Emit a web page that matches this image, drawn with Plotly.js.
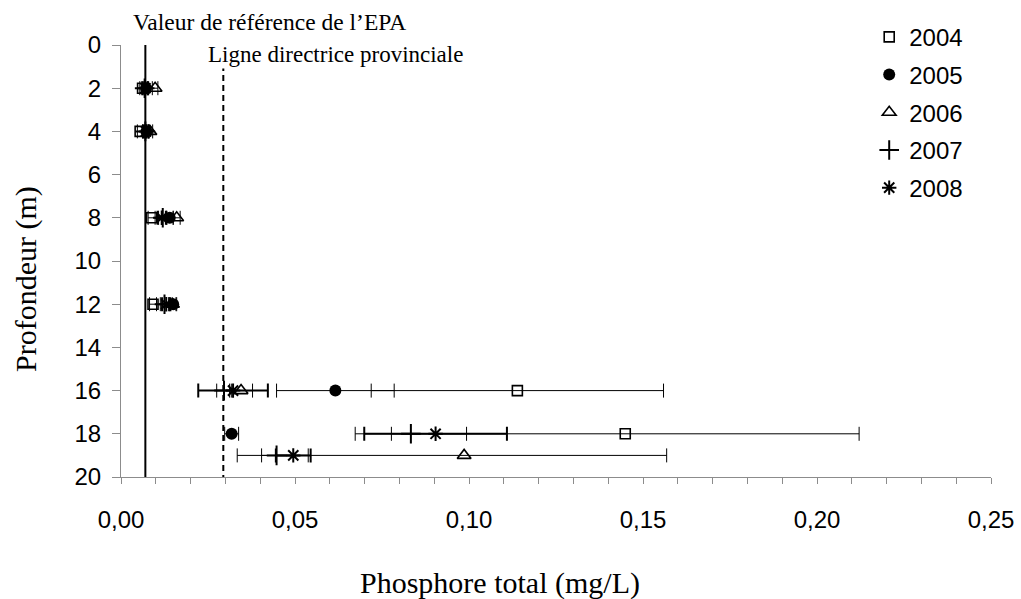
<!DOCTYPE html>
<html>
<head>
<meta charset="utf-8">
<script src="https://cdn.plot.ly/plotly-3.0.1.min.js"></script>
<style>html,body{margin:0;padding:0;background:#fff;}#chart{width:1021px;height:599px;}</style>
</head>
<body>
<div id="chart"></div>
<script>
// Depths (m)
const depths2004 = [2, 4, 8, 12, 16, 18];
const depths2005 = [2, 4, 8, 12, 16, 18];
const depths2006 = [2, 4, 8, 12, 16, 19];
const depths2007 = [2, 4, 8, 12, 16, 18, 19];
const depths2008 = [2, 4, 8, 12, 16, 18, 19];

// Total phosphorus (mg/L)
const tp2004 = [0.0062, 0.0055, 0.0088, 0.0092, 0.1139, 0.1449];
const tp2005 = [0.0072, 0.0073, 0.0140, 0.0150, 0.0616, 0.0318];
const tp2006 = [0.0098, 0.0083, 0.0160, 0.0148, 0.0345, 0.0986];
const tp2007 = [0.0068, 0.0070, 0.0120, 0.0125, 0.0296, 0.0833, 0.0447];
const tp2008 = [0.0070, 0.0072, 0.0117, 0.0130, 0.0322, 0.0904, 0.0495];

// Error bars (plus / minus)
const errPlus2004  = [0.0008, 0.0008, 0.0010, 0.0010, 0.0420, 0.0672];
const errMinus2004 = [0.0008, 0.0008, 0.0010, 0.0010, 0.0420, 0.0672];
const errPlus2005  = [0.0006, 0.0006, 0.0010, 0.0010, 0.0169, 0.0020];
const errMinus2005 = [0.0006, 0.0006, 0.0010, 0.0010, 0.0169, 0.0020];
const errPlus2006  = [0.0008, 0.0008, 0.0010, 0.0010, 0.0033, 0.0582];
const errMinus2006 = [0.0008, 0.0008, 0.0010, 0.0010, 0.0033, 0.0582];
const errPlus2007  = [0.0008, 0.0008, 0.0012, 0.0012, 0.0021, 0.0160, 0.0091];
const errMinus2007 = [0.0008, 0.0008, 0.0012, 0.0012, 0.0021, 0.0160, 0.0113];
const errPlus2008  = [0.0008, 0.0008, 0.0012, 0.0012, 0.0100, 0.0205, 0.0050];
const errMinus2008 = [0.0008, 0.0008, 0.0012, 0.0012, 0.0100, 0.0205, 0.0050];

// Reference values (mg/L)
const epaReference = 0.007;
const provincialGuideline = 0.0294;

// Axis ticks
const xTickVals = [0,0.01,0.02,0.03,0.04,0.05,0.06,0.07,0.08,0.09,0.10,0.11,0.12,0.13,0.14,0.15,0.16,0.17,0.18,0.19,0.20,0.21,0.22,0.23,0.24,0.25];
const xTickText = ['0,00','','','','','0,05','','','','','0,10','','','','','0,15','','','','','0,20','','','','','0,25'];
const yTickVals = [0,2,4,6,8,10,12,14,16,18,20];

const serif = 'Liberation Serif, Times New Roman, serif';
const sans = 'Liberation Sans, Arial, sans-serif';

function series(name, x, y, ep, em, symbol, size, lw, errThick) {
  return {
    type: 'scatter', mode: 'markers', name: name, legendgroup: name,
    x: x, y: y,
    marker: {symbol: symbol, size: size, color: 'black', line: {color: 'black', width: lw}},
    error_x: {type: 'data', symmetric: false, array: ep, arrayminus: em,
              color: 'black', thickness: errThick, width: 7}
  };
}

const traces = [
  series('2004', tp2004, depths2004, errPlus2004, errMinus2004, 'square-open', 10, 1.6, 1),
  series('2005', tp2005, depths2005, errPlus2005, errMinus2005, 'circle', 12, 0, 1),
  series('2006', tp2006, depths2006, errPlus2006, errMinus2006, 'triangle-up-open', 12, 1.6, 1),
  series('2007', tp2007, depths2007, errPlus2007, errMinus2007, 'cross-thin-open', 14, 2, 1),
  series('2008', tp2008, depths2008, errPlus2008, errMinus2008, 'asterisk-open', 12, 2, 2)
];

const layout = {
  width: 1021, height: 599,
  margin: {l: 121, r: 30, t: 45, b: 122},
  paper_bgcolor: 'white', plot_bgcolor: 'white',
  showlegend: true,
  legend: {x: 0.86, y: 1.07, xanchor: 'left', yanchor: 'top',
           font: {family: sans, size: 24, color: 'black'},
           tracegroupgap: 3.5, bgcolor: 'rgba(0,0,0,0)'},
  xaxis: {range: [0, 0.25], tickvals: xTickVals, ticktext: xTickText,
          showgrid: false, zeroline: false, showline: true, linecolor: '#8c8c8c', linewidth: 1,
          ticks: 'outside', ticklen: 6, tickcolor: '#8c8c8c', ticklabelstandoff: 15,
          tickfont: {family: sans, size: 24, color: 'black'}},
  yaxis: {range: [20, 0], tickvals: yTickVals,
          showgrid: false, zeroline: false, showline: true, linecolor: '#8c8c8c', linewidth: 1,
          ticks: 'outside', ticklen: 8, tickcolor: '#8c8c8c', ticklabelstandoff: 6,
          tickfont: {family: sans, size: 24, color: 'black'}},
  shapes: [
    {type: 'line', xref: 'x', yref: 'y', x0: epaReference, x1: epaReference, y0: 0, y1: 20,
     line: {color: 'black', width: 2}, layer: 'below'},
    {type: 'line', xref: 'x', yref: 'y', x0: provincialGuideline, x1: provincialGuideline, y0: 0, y1: 20,
     line: {color: 'black', width: 2, dash: '6px,4px'}, layer: 'below'}
  ],
  annotations: [
    {text: 'Valeur de référence de l\u2019EPA', xref: 'paper', yref: 'paper',
     x: (131 - 121) / 870, y: (477 - 22) / 432, xanchor: 'left', yanchor: 'middle',
     showarrow: false, font: {family: serif, size: 23.5, color: 'black'}},
    {text: 'Ligne directrice provinciale', xref: 'paper', yref: 'paper',
     x: (206 - 121) / 870, y: (477 - 54) / 432, xanchor: 'left', yanchor: 'middle',
     showarrow: false, bgcolor: 'white', font: {family: serif, size: 23, color: 'black'}},
    {text: 'Phosphore total (mg/L)', xref: 'paper', yref: 'paper',
     x: (500 - 121) / 870, y: (477 - 583) / 432, xanchor: 'center', yanchor: 'middle',
     showarrow: false, font: {family: serif, size: 30, color: 'black'}},
    {text: 'Profondeur (m)', xref: 'paper', yref: 'paper', textangle: -90,
     x: (26 - 121) / 870, y: (477 - 279) / 432, xanchor: 'center', yanchor: 'middle',
     showarrow: false, font: {family: serif, size: 30, color: 'black'}}
  ]
};

Plotly.newPlot('chart', traces, layout, {displayModeBar: false, staticPlot: true});
</script>
</body>
</html>
